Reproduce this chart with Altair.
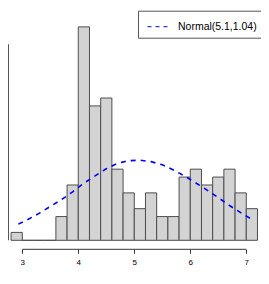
import altair as alt
import pandas as pd

# Histogram bins
bin_left = [2.8, 3.0, 3.2, 3.4, 3.6, 3.8, 4.0, 4.2, 4.4, 4.6, 4.8,
            5.0, 5.2, 5.4, 5.6, 5.8, 6.0, 6.2, 6.4, 6.6, 6.8, 7.0]
bin_right = [3.0, 3.2, 3.4, 3.6, 3.8, 4.0, 4.2, 4.4, 4.6, 4.8, 5.0,
             5.2, 5.4, 5.6, 5.8, 6.0, 6.2, 6.4, 6.6, 6.8, 7.0, 7.2]
counts = [1, 0, 0, 0, 3, 7, 27, 17, 18, 9, 6,
          4, 6, 3, 3, 8, 9, 7, 8, 9, 6, 4]

# Overlaid normal curve
curve_x = [2.93, 3.1, 3.3, 3.5, 3.7, 3.9, 4.1, 4.3, 4.5, 4.7, 4.9,
           5.1, 5.3, 5.5, 5.7, 5.9, 6.1, 6.3, 6.5, 6.7, 6.9, 7.08]
curve_density = [0.066, 0.085, 0.110, 0.138, 0.166, 0.198, 0.233, 0.263,
                 0.292, 0.314, 0.325, 0.327, 0.321, 0.308, 0.287, 0.262,
                 0.234, 0.205, 0.174, 0.142, 0.113, 0.088]

x_ticks = [3, 4, 5, 6, 7]
legend_label = "Normal(5.1,1.04)"

total = sum(counts)
hist = pd.DataFrame({
    "left": bin_left,
    "right": bin_right,
    "density": [c / (total * (r - l)) for c, l, r in zip(counts, bin_left, bin_right)],
    "base": [0.0] * len(counts),
})
curve = pd.DataFrame({"x": curve_x, "y": curve_density, "series": [legend_label] * len(curve_x)})

W, H = 253, 241.3
x_min = 2.745
x_max = x_min + W / 56.0
y_min, y_max = -0.0367, 0.948
xs = alt.Scale(domain=[x_min, x_max], nice=False, zero=False)
ys = alt.Scale(domain=[y_min, y_max], nice=False, zero=False)

FONT = "Liberation Sans"

bars = alt.Chart(hist).mark_rect(fill="#D3D3D3", stroke="#4d4d4d", strokeWidth=1).encode(
    x=alt.X("left:Q", scale=xs,
            axis=alt.Axis(values=x_ticks, domain=False, grid=False, tickSize=4,
                          tickColor="#333333", tickWidth=1, labelFontSize=8,
                          labelFont=FONT, labelColor="#000000", labelPadding=5,
                          title=None, format="d")),
    x2="right:Q",
    y=alt.Y("density:Q", scale=ys, axis=None),
    y2="base:Q",
)

line = alt.Chart(curve).mark_line(strokeWidth=1.6, strokeDash=[5, 5]).encode(
    x=alt.X("x:Q", scale=xs),
    y=alt.Y("y:Q", scale=ys),
    color=alt.Color("series:N",
                    scale=alt.Scale(domain=[legend_label], range=["#0000FF"]),
                    legend=alt.Legend(title=None, orient="none", legendX=130, legendY=2.7,
                                      strokeColor="#555555", fillColor="#FFFFFF",
                                      padding=5, cornerRadius=0,
                                      symbolType="stroke", symbolSize=441,
                                      symbolOffset=4,
                                      symbolStrokeWidth=1, symbolDash=[4, 4],
                                      labelOffset=9, labelFontSize=10.5, labelFont=FONT,
                                      labelColor="#000000")),
)

xaxis_df = pd.DataFrame({"a": [x_ticks[0]], "b": [x_ticks[-1]], "y": [y_min]})
xaxis_line = alt.Chart(xaxis_df).mark_rule(color="#333333", strokeWidth=1).encode(
    x=alt.X("a:Q", scale=xs), x2="b:Q", y=alt.Y("y:Q", scale=ys))

yaxis_df = pd.DataFrame({"a": [0.0], "b": [0.8]})
yaxis_line = alt.Chart(yaxis_df).mark_rule(color="#555555", strokeWidth=1).encode(
    x=alt.value(0.5), y=alt.Y("a:Q", scale=ys), y2="b:Q")

chart = alt.layer(bars, line, xaxis_line, yaxis_line).properties(
    width=W, height=H,
    autosize=alt.AutoSizeParams(type="none"),
    padding={"left": 0, "top": 0, "right": 0, "bottom": 26},
).configure_view(stroke=None)

chart.save("out.html", embed_options={"renderer": "svg", "actions": False})
